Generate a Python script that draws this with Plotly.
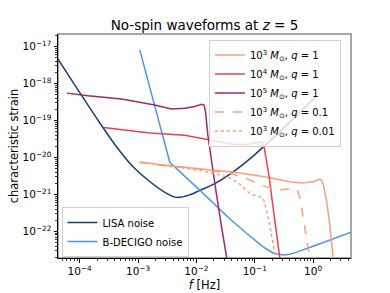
import plotly.graph_objects as go

# ---- data ----
lisa_f = [4.25e-5, 9.33e-5, 2.20e-4, 4.27e-4, 8.20e-4, 1.58e-3, 3.09e-3, 4.57e-3,
          7.76e-3, 1.15e-2, 1.95e-2, 3.72e-2, 8.24e-2, 0.158, 0.269, 1.15]
lisa_h = [4.57e-18, 6.76e-19, 8.71e-20, 1.95e-20, 5.62e-21, 2.24e-21, 1.07e-21, 8.32e-22,
          9.77e-22, 1.29e-21, 1.86e-21, 3.47e-21, 9.12e-21, 2.29e-20, 5.01e-20, 4.68e-19]

decigo_f = [1.07e-3, 3.50e-3, 1.15e-2, 3.72e-2, 7.24e-2, 0.139, 0.209, 0.309, 0.398,
            0.525, 1.0, 1.95, 4.47]
decigo_h = [8.13e-18, 7.41e-21, 1.29e-21, 2.19e-22, 8.91e-23, 3.80e-23, 2.57e-23, 2.29e-23,
            2.40e-23, 2.75e-23, 3.98e-23, 5.89e-23, 9.55e-23]

m5_f = [6.05e-5, 1.39e-4, 5.19e-4, 1.93e-3, 3.72e-3, 6.31e-3, 9.33e-3, 1.23e-2, 1.35e-2,
        1.43e-2, 1.57e-2, 1.84e-2, 2.15e-2, 2.62e-2, 3.32e-2, 3.63e-2]
m5_h = [5.50e-19, 4.68e-19, 3.80e-19, 2.63e-19, 2.04e-19, 2.14e-19, 2.40e-19, 2.75e-19,
        2.63e-19, 1.78e-19, 4.07e-20, 6.31e-21, 1.32e-21, 1.78e-22, 1.91e-23, 7.94e-24]

m4_f = [2.58e-4, 1.58e-3, 6.31e-3, 1.15e-2, 2.51e-2, 4.21e-2, 7.24e-2, 0.112, 0.132,
        0.145, 0.158, 0.178, 0.195, 0.237, 0.269, 0.295]
m4_h = [6.46e-20, 4.57e-20, 3.98e-20, 3.31e-20, 2.63e-20, 2.29e-20, 2.24e-20, 2.51e-20,
        2.69e-20, 1.91e-20, 8.91e-21, 2.82e-21, 8.71e-22, 9.77e-23, 1.91e-23, 6.31e-24]

m3_f = [1.07e-3, 3.50e-3, 1.15e-2, 4.21e-2, 0.158, 0.398, 0.631, 1.0, 1.26, 1.38, 1.51,
        1.70, 1.95, 2.21, 2.40]
m3_h = [7.41e-21, 5.89e-21, 4.90e-21, 4.07e-21, 2.95e-21, 2.19e-21, 2.04e-21, 2.19e-21,
        2.57e-21, 2.51e-21, 1.78e-21, 7.08e-22, 1.35e-22, 1.91e-23, 6.31e-24]

q01_f = [1.07e-3, 3.50e-3, 1.15e-2, 3.72e-2, 7.24e-2, 0.139, 0.269, 0.398, 0.479, 0.537,
         0.598, 0.682, 0.832, 0.891, 0.955]
q01_h = [7.41e-21, 5.75e-21, 4.90e-21, 3.72e-21, 2.69e-21, 1.70e-21, 1.32e-21, 1.41e-21,
         1.48e-21, 1.32e-21, 7.94e-22, 2.24e-22, 3.98e-23, 1.91e-23, 7.94e-24]

q001_f = [1.07e-3, 3.50e-3, 1.15e-2, 2.21e-2, 3.72e-2, 5.50e-2, 8.24e-2, 0.112, 0.132,
          0.145, 0.158, 0.182, 0.209, 0.234, 0.251]
q001_h = [7.41e-21, 5.75e-21, 4.47e-21, 3.55e-21, 2.82e-21, 1.91e-21, 1.05e-21, 8.91e-22,
          8.51e-22, 6.61e-22, 3.98e-22, 1.41e-22, 4.47e-23, 1.66e-23, 7.94e-24]

x_tickvals = [1e-4, 1e-3, 1e-2, 1e-1, 1e0]
x_ticktext = ["10<sup>\u22124</sup>", "10<sup>\u22123</sup>", "10<sup>\u22122</sup>",
              "10<sup>\u22121</sup>", "10<sup>0</sup>"]
y_tickvals = [1e-22, 1e-21, 1e-20, 1e-19, 1e-18, 1e-17]
y_ticktext = ["10<sup>\u221222</sup>", "10<sup>\u221221</sup>", "10<sup>\u221220</sup>",
              "10<sup>\u221219</sup>", "10<sup>\u221218</sup>", "10<sup>\u221217</sup>"]

x_minor = [m * 10.0 ** e for e in range(-5, 1) for m in range(2, 10)]
y_minor = [m * 10.0 ** e for e in range(-23, -16) for m in range(2, 10)]

C_LISA = "#1b3c7a"
C_DECIGO = "#4a97ea"
C_M3 = "#f6a07c"
C_M4 = "#e8434e"
C_M5 = "#a3286d"

FONT = "DejaVu Sans"
MSUN = "<i>M</i><sub>\u2299</sub>"

fig = go.Figure()

def add(f, h, color, name, legend, dash="solid", shape="linear"):
    fig.add_trace(go.Scatter(x=f, y=h, mode="lines", name=name, legend=legend,
                             line=dict(color=color, width=1.5, dash=dash, shape=shape)))

add(lisa_f, lisa_h, C_LISA, "LISA noise", "legend2", shape="spline")
add(decigo_f, decigo_h, C_DECIGO, "B-DECIGO noise", "legend2")
add(m3_f, m3_h, C_M3, "10<sup>3</sup> " + MSUN + ", <i>q</i> = 1", "legend")
add(m4_f, m4_h, C_M4, "10<sup>4</sup> " + MSUN + ", <i>q</i> = 1", "legend")
add(m5_f, m5_h, C_M5, "10<sup>5</sup> " + MSUN + ", <i>q</i> = 1", "legend")
add(q01_f, q01_h, C_M3, "10<sup>3</sup> " + MSUN + ", <i>q</i> = 0.1", "legend", dash="dash")
add(q001_f, q001_h, C_M3, "10<sup>3</sup> " + MSUN + ", <i>q</i> = 0.01", "legend", dash="dot")

axis_common = dict(type="log", showgrid=False, zeroline=False, showline=True,
                   linecolor="black", linewidth=1, ticks="outside", ticklen=3.5,
                   tickwidth=1, tickcolor="black", tickmode="array", automargin=False,
                   tickfont=dict(family=FONT, size=10.5, color="black"))

fig.update_layout(
    width=390, height=293,
    margin=dict(l=58, r=39, t=34, b=35, autoexpand=False),
    paper_bgcolor="white", plot_bgcolor="white",
    font=dict(family=FONT, color="black"),
    title=dict(text="No-spin waveforms at <i>z</i> = 5", x=0.5, xref="paper",
               y=1, yref="paper", yanchor="bottom", xanchor="center", pad=dict(b=4),
               font=dict(family=FONT, size=13.5, color="black")),
    xaxis=dict(axis_common, range=[-4.372, 0.65], tickvals=x_tickvals, ticktext=x_ticktext,
               minor=dict(tickmode="array", tickvals=x_minor, ticks="outside", ticklen=2,
                          tickcolor="black", tickwidth=0.8),
               title=dict(text="<i>f</i> [Hz]", standoff=4,
                          font=dict(family=FONT, size=11.5, color="black"))),
    yaxis=dict(axis_common, range=[-22.72, -16.66], tickvals=y_tickvals, ticktext=y_ticktext,
               minor=dict(tickmode="array", tickvals=y_minor, ticks="outside", ticklen=2,
                          tickcolor="black", tickwidth=0.8),
               title=dict(text="characteristic strain", standoff=1,
                          font=dict(family=FONT, size=11.5, color="black"))),
    legend=dict(x=0.515, y=0.975, xanchor="left", yanchor="top",
                bgcolor="rgba(255,255,255,0.8)", bordercolor="#d0d0d0", borderwidth=1,
                font=dict(family=FONT, size=10, color="black"), tracegroupgap=0),
    legend2=dict(x=0.012, y=0.004, xanchor="left", yanchor="bottom",
                 bgcolor="rgba(255,255,255,0.8)", bordercolor="#d0d0d0", borderwidth=1,
                 font=dict(family=FONT, size=10, color="black")),
    shapes=[dict(type="rect", xref="paper", yref="paper", x0=0, x1=1, y0=0, y1=1,
                 line=dict(color="#8a8a8a", width=1.5), layer="below")],
)

fig.write_html("out.html", config={"displayModeBar": False, "staticPlot": True},
               post_script="document.body.style.margin='0px';document.body.style.padding='0px';")
